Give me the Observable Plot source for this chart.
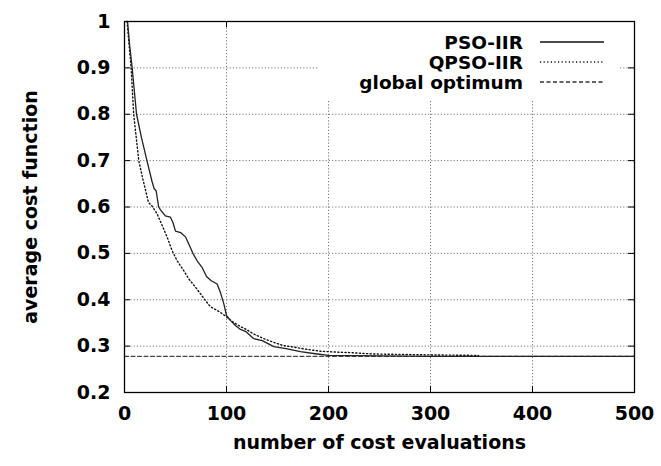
<!DOCTYPE html>
<html>
<head>
<meta charset="utf-8">
<script src="https://cdn.jsdelivr.net/npm/d3@7"></script>
<script src="https://cdn.jsdelivr.net/npm/@observablehq/plot@0.6"></script>
<style>
  html, body { margin: 0; padding: 0; background: #fff; }
</style>
</head>
<body>
<div id="chart"></div>
<script>
// ---- data ----
const psoX = [3, 5, 7.5, 11.8, 16.7, 22, 27, 29, 31, 33.5, 35.3, 40, 45, 47.4, 50, 55, 60, 63, 67.3, 71.2, 76, 80.4, 85, 90.8, 94, 97.4, 100, 104, 109, 113.7, 118.6, 126.8, 135, 146.4, 159.5, 172.5, 189, 200, 250, 300, 500];
const psoY = [1.0, 0.95, 0.9, 0.8, 0.749, 0.7, 0.655, 0.64, 0.635, 0.6, 0.594, 0.581, 0.578, 0.567, 0.548, 0.545, 0.535, 0.52, 0.499, 0.484, 0.47, 0.45, 0.441, 0.434, 0.416, 0.391, 0.366, 0.355, 0.344, 0.336, 0.332, 0.316, 0.312, 0.299, 0.294, 0.288, 0.283, 0.28, 0.279, 0.278, 0.278];

const qpsoX = [2.5, 6.5, 9, 11.5, 14, 18, 23.5, 27, 32, 37, 41.8, 46.7, 51.6, 58, 63, 69.6, 74.5, 79.4, 84.3, 90.8, 95.8, 100.6, 107, 113.7, 117, 126.8, 136.6, 146.4, 156, 166, 179, 192, 208.5, 221.6, 244, 275, 300, 347];
const qpsoY = [1.0, 0.9, 0.8, 0.75, 0.7, 0.66, 0.61, 0.602, 0.585, 0.56, 0.535, 0.506, 0.484, 0.463, 0.445, 0.427, 0.413, 0.398, 0.385, 0.377, 0.37, 0.362, 0.351, 0.342, 0.339, 0.326, 0.316, 0.308, 0.301, 0.298, 0.293, 0.289, 0.287, 0.286, 0.283, 0.282, 0.281, 0.28];

const globalOptimum = 0.278;
const optX = [0, 500];

const seriesNames = ["PSO-IIR", "QPSO-IIR", "global optimum"];

const xTicks = [0, 100, 200, 300, 400, 500];
const xTickLabels = ["0", "100", "200", "300", "400", "500"];
const yTicks = [0.2, 0.3, 0.4, 0.5, 0.6, 0.7, 0.8, 0.9, 1];
const yTickLabels = ["0.2", "0.3", "0.4", "0.5", "0.6", "0.7", "0.8", "0.9", "1"];
const xGrid = [100, 200, 300, 400];
const yGrid = [0.3, 0.4, 0.5, 0.6, 0.7, 0.8, 0.9];

const xTitle = "number of cost evaluations";
const yTitle = "average cost function";

// ---- build tables ----
const pso = psoX.map((x, i) => ({x, y: psoY[i]}));
const qpso = qpsoX.map((x, i) => ({x, y: qpsoY[i]}));
const opt = optX.map(x => ({x, y: globalOptimum}));

const W = 661, H = 466;
const mL = 124, mR = 27, mT = 21, mB = 74;
const frameH = H - mT - mB;
const frameW = W - mL - mR;
const tickLen = 6;

const FONT = "DejaVu Sans";
const FS = 19;

// legend drawn as a custom mark (pixel layout)
function legendMark() {
  const g = d3.create("svg:g");
  g.append("rect")
    .attr("x", 318).attr("y", mT + 1)
    .attr("width", 300).attr("height", 77)
    .attr("fill", "white");
  const styles = [
    {dash: null, color: "#111"},
    {dash: "1.2,2.4", color: "#111"},
    {dash: "4,2.5", color: "#333"}
  ];
  seriesNames.forEach((name, i) => {
    const cy = 42 + i * 20;
    g.append("text")
      .attr("x", 523).attr("y", cy)
      .attr("dy", "0.36em")
      .attr("text-anchor", "end")
      .attr("font-family", FONT)
      .attr("font-weight", "bold")
      .attr("font-size", 18.5)
      .attr("fill", "black")
      .text(name);
    g.append("line")
      .attr("x1", 540).attr("x2", 604)
      .attr("y1", cy).attr("y2", cy)
      .attr("stroke", styles[i].color)
      .attr("stroke-width", 1.3)
      .attr("stroke-dasharray", styles[i].dash);
  });
  return g.node();
}

const chart = Plot.plot({
  width: W,
  height: H,
  marginLeft: mL,
  marginRight: mR,
  marginTop: mT,
  marginBottom: mB,
  style: {fontFamily: FONT, fontSize: FS + "px", fontWeight: "bold", color: "black", background: "white"},
  x: {domain: [0, 500], ticks: xTicks, tickSize: 0, tickPadding: 14,
      tickFormat: d => xTickLabels[xTicks.indexOf(d)], label: null},
  y: {domain: [0.2, 1], ticks: yTicks, tickSize: 0, tickPadding: 14,
      tickFormat: d => yTickLabels[yTicks.indexOf(d)], label: null},
  marks: [
    // dotted grid
    Plot.ruleX(xGrid, {stroke: "#777", strokeWidth: 1, strokeDasharray: "1.2,2"}),
    Plot.ruleY(yGrid, {stroke: "#777", strokeWidth: 1, strokeDasharray: "1.2,2"}),
    // inward ticks (gnuplot style)
    Plot.ruleX(xTicks, {stroke: "black", insetTop: frameH - tickLen}),
    Plot.ruleX(xTicks, {stroke: "black", insetBottom: frameH - tickLen}),
    legendMark,
    Plot.ruleY(yTicks, {stroke: "black", insetRight: frameW - tickLen}),
    Plot.ruleY(yTicks, {stroke: "black", insetLeft: frameW - tickLen}),
    // series
    Plot.line(opt, {x: "x", y: "y", stroke: "#444", strokeWidth: 1.3, strokeDasharray: "4,2.5"}),
    Plot.line(qpso, {x: "x", y: "y", stroke: "#111", strokeWidth: 1.4, strokeDasharray: "1.2,2.4", curve: "linear"}),
    Plot.line(pso, {x: "x", y: "y", stroke: "#222", strokeWidth: 1.3, curve: "linear"}),
    Plot.frame({stroke: "black", strokeWidth: 1.3}),
    // axis titles
    Plot.text([xTitle], {frameAnchor: "bottom", dy: 56, fontSize: FS, fontWeight: "bold", fill: "black"}),
    Plot.text([yTitle], {frameAnchor: "left", dx: -94, rotate: -90, textAnchor: "middle", fontSize: FS, fontWeight: "bold", fill: "black"})
  ]
});

document.getElementById("chart").appendChild(chart);
</script>
</body>
</html>
